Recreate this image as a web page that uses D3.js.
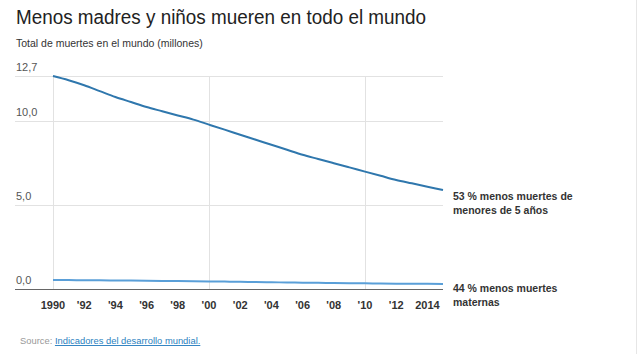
<!DOCTYPE html>
<html lang="es">
<head>
<meta charset="UTF-8">
<title>Menos madres y niños mueren en todo el mundo</title>
<script src="https://cdn.jsdelivr.net/npm/d3@7"></script>
<style>
    body { margin: 0; background: #fff; }
    svg { font-family: Arial, "Liberation Sans", sans-serif; }
    .grid line { stroke: #e2e2e2; stroke-width: 1px; }
    .ylab { font-size: 11px; fill: #555; }
    .xlab { font-size: 11px; font-weight: bold; fill: #333; }
    .endlab { font-size: 10.5px; font-weight: bold; fill: #333; }
</style>
</head>
<body>
<div id="graphDiv"></div>
<script>
    // Years shown on the x axis
    const years = d3.range(1990, 2016);
    // Deaths of children under 5 (millions)
    const under5 = [12.7, 12.45, 12.15, 11.8, 11.45, 11.15, 10.85, 10.6, 10.35, 10.1,
        9.8, 9.5, 9.2, 8.9, 8.6, 8.3, 8.0, 7.75, 7.5, 7.25,
        7.0, 6.75, 6.5, 6.3, 6.1, 5.9];
    // Maternal deaths (millions)
    const maternal = [0.53, 0.53, 0.52, 0.52, 0.51, 0.5, 0.49, 0.48, 0.47, 0.46,
        0.45, 0.44, 0.43, 0.41, 0.4, 0.39, 0.38, 0.37, 0.36, 0.35,
        0.34, 0.33, 0.32, 0.31, 0.31, 0.3];
    const yTicks = [0, 5, 10, 12.7];
    const xTicks = [1990, 1992, 1994, 1996, 1998, 2000, 2002, 2004, 2006, 2008, 2010, 2012, 2014];
    const xGrid = [1990, 2000, 2010];
    const seriesLabels = [
        {values: under5, color: "#2f77ad", lines: ["53 % menos muertes de", "menores de 5 años"], dy: 0},
        {values: maternal, color: "#5a9fd8", lines: ["44 % menos muertes", "maternas"], dy: -2}
    ];

    const width = 640, height = 354;
    const plotLeft = 15, plotRight = 443;

    const x = d3.scaleLinear().domain([1990, 2015]).range([53, 443]);
    const y = d3.scaleLinear().domain([0, 12.7]).range([289, 76]);

    const svg = d3.select("#graphDiv").append("svg")
        .attr("width", width)
        .attr("height", height);

    // right border
    svg.append("line")
        .attr("x1", 636.5).attr("x2", 636.5)
        .attr("y1", 0).attr("y2", height)
        .attr("stroke", "#e6e6e6");

    // Title + subtitle
    svg.append("text")
        .attr("x", 16).attr("y", 24)
        .attr("font-size", 20).attr("fill", "#222")
        .attr("textLength", 410).attr("lengthAdjust", "spacingAndGlyphs")
        .text("Menos madres y niños mueren en todo el mundo");
    svg.append("text")
        .attr("x", 16).attr("y", 47)
        .attr("font-size", 10.5).attr("fill", "#333")
        .text("Total de muertes en el mundo (millones)");

    // Grid
    const grid = svg.append("g").attr("class", "grid");
    grid.selectAll(".h")
        .data(yTicks.filter(d => d > 0))
        .join("line")
        .attr("x1", plotLeft).attr("x2", plotRight)
        .attr("y1", d => Math.round(y(d)) + 0.5)
        .attr("y2", d => Math.round(y(d)) + 0.5);
    grid.selectAll(".v")
        .data(xGrid)
        .join("line")
        .attr("x1", d => Math.round(x(d)) + 0.5)
        .attr("x2", d => Math.round(x(d)) + 0.5)
        .attr("y1", y(12.7)).attr("y2", y(0));

    // Y labels above gridlines
    svg.selectAll(".ylab")
        .data(yTicks)
        .join("text")
        .attr("class", "ylab")
        .attr("x", 16)
        .attr("y", d => y(d) - 5)
        .text(d => d3.format(".1f")(d).replace(".", ","));

    // X axis baseline
    svg.append("line")
        .attr("x1", plotLeft).attr("x2", plotRight)
        .attr("y1", Math.round(y(0)) + 0.5).attr("y2", Math.round(y(0)) + 0.5)
        .attr("stroke", "#666");

    svg.selectAll(".xlab")
        .data(xTicks)
        .join("text")
        .attr("class", "xlab")
        .attr("x", d => x(d))
        .attr("y", 309)
        .attr("text-anchor", "middle")
        .text(d => d === 1990 || d === 2014 ? d : "'" + String(d).slice(2));

    // Lines
    const line = d3.line()
        .x((d, i) => x(years[i]))
        .y(d => y(d))
        .curve(d3.curveMonotoneX);

    seriesLabels.forEach(s => {
        svg.append("path")
            .datum(s.values)
            .attr("fill", "none")
            .attr("stroke", s.color)
            .attr("stroke-width", 2)
            .attr("d", line);

        const last = s.values[s.values.length - 1];
        const t = svg.append("text")
            .attr("class", "endlab")
            .attr("x", 453)
            .attr("y", y(last) + 10 + s.dy);
        s.lines.forEach((l, i) => {
            t.append("tspan").attr("x", 453).attr("dy", i === 0 ? 0 : 14).text(l);
        });
    });

    // Source
    const src = svg.append("text")
        .attr("x", 20).attr("y", 344)
        .attr("font-size", 9.4);
    src.append("tspan").attr("fill", "#999").text("Source: ");
    src.append("tspan").attr("fill", "#2a7fc0").attr("text-decoration", "underline")
        .text("Indicadores del desarrollo mundial.");
</script>
</body>
</html>
